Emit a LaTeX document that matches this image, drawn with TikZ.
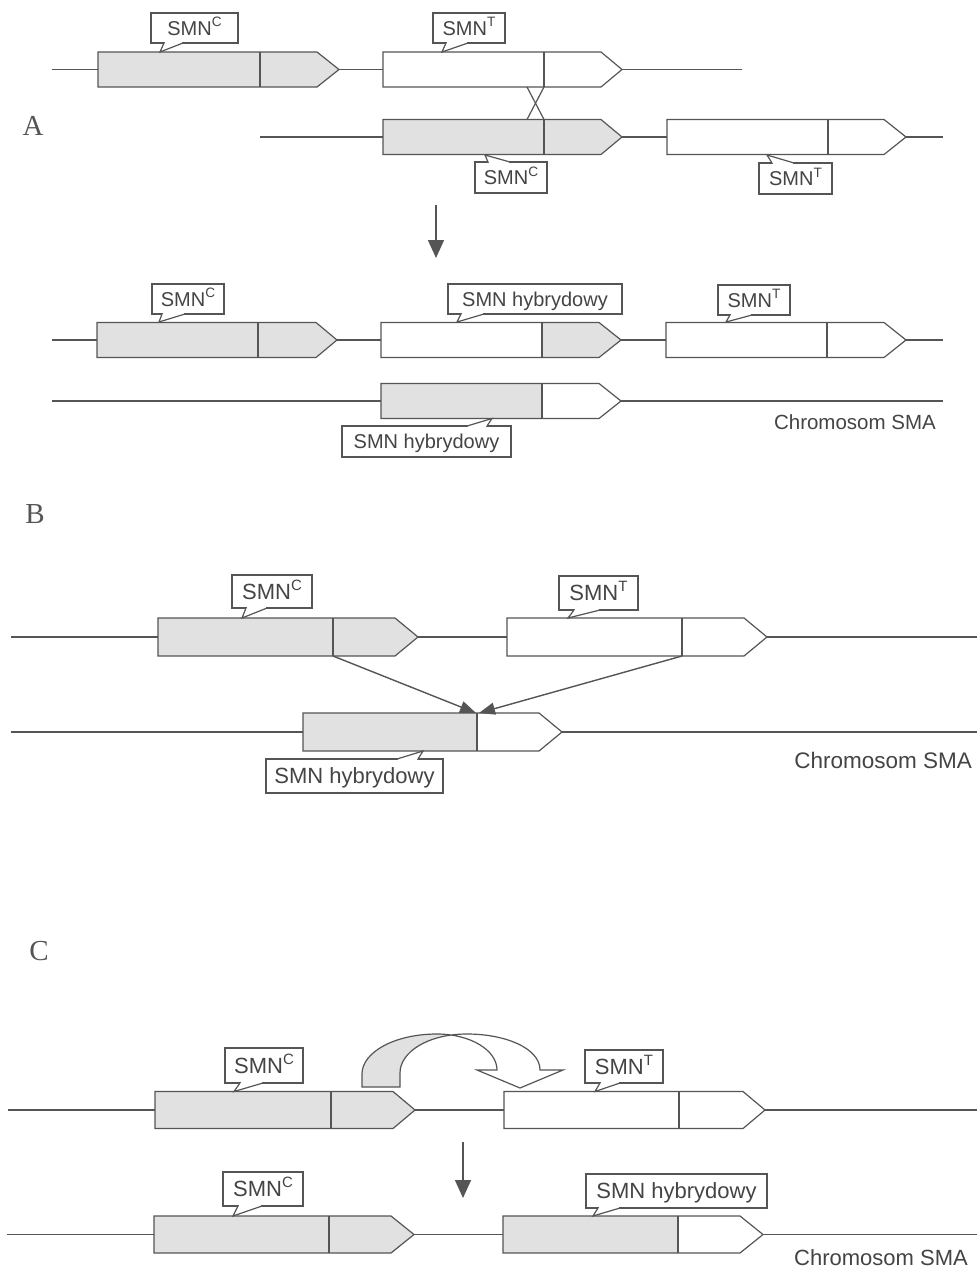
\documentclass[tikz,border=0pt]{standalone}
\usepackage{fontspec}
\usepackage{graphicx}
\setmainfont{Liberation Sans}
\newfontfamily\tnr{Liberation Serif}
\usetikzlibrary{arrows.meta,calc}
\definecolor{ln}{HTML}{555555}
\definecolor{shd}{HTML}{E1E1E1}
\definecolor{txt}{HTML}{444444}
\newcommand\supx[1]{\raisebox{.42em}{\scalebox{.68}{#1}}}
% gene: name, x0, xdiv, xhead, xtip, yc, halfheight, fill left, fill right
\newcommand\gene[9]{%
  \fill[#8] (#2,#6-#7) rectangle (#3,#6+#7);
  \fill[#9] (#3,#6-#7) -- (#4,#6-#7) -- (#5,#6) -- (#4,#6+#7) -- (#3,#6+#7) -- cycle;
  \draw[gl] (#2,#6-#7) -- (#4,#6-#7) -- (#5,#6) -- (#4,#6+#7) -- (#2,#6+#7) -- cycle;
  \draw[gl] (#3,#6-#7) -- (#3,#6+#7);
  \coordinate (#1-l) at (#2,#6);
  \coordinate (#1-t) at (#5,#6);
  \coordinate (#1-dt) at (#3,#6-#7);
  \coordinate (#1-db) at (#3,#6+#7);
}
% callout box: style, name, x1, y1, x2, y2, text
\newcommand\callout[7]{%
  \node[#1, minimum width={(#5-#3)*1pt}, minimum height={(#6-#4)*1pt}] (#2) at ({(#3+#5)/2},{(#4+#6)/2}) {#7};
}
% pointer: base y, base x1, base x2, tip x, tip y
\newcommand\ptr[5]{%
  \fill[white] (#2,#1) -- (#4,#5) -- (#3,#1) -- cycle;
  \draw[white, line width=2.2pt] (#2+1,#1) -- (#3-1,#1);
  \draw[gl] (#2,#1) -- (#4,#5) -- (#3,#1);
}
\begin{document}
\begin{tikzpicture}[x=1pt,y=-1pt,
  gl/.style={draw=ln, line width=1.2pt, line join=miter},
  chr/.style={draw=ln, line width=1.1pt},
  lblA/.style={draw=ln, line width=1.1pt, fill=white, inner sep=0pt, text=txt,
    font=\fontsize{20}{24}\selectfont, text height=18.3pt, text depth=4pt},
  lblB/.style={draw=ln, line width=1.1pt, fill=white, inner sep=0pt, text=txt,
    font=\fontsize{22}{26}\selectfont, text height=19.8pt, text depth=4pt},
  sect/.style={text=ln, inner sep=0pt, font=\tnr\fontsize{29}{30}\selectfont},
  chrlbl/.style={text=txt, anchor=base east, inner sep=0pt},
  darr/.style={draw=ln, line width=1.5pt, -{Triangle[length=18pt,width=16pt]}},
  barr/.style={draw=ln, line width=1.4pt, -{Triangle[length=16pt,width=12pt]}}]
\fill[white] (0,0) rectangle (977,1269);
\useasboundingbox (0,0) rectangle (977,1269);

% ================= A =================
\node[sect] (secA) at (33,126) {A};
% row 1
\coordinate (a1s) at (52,69.5);
\coordinate (a1e) at (742,69.5);
\gene{a1g1}{98}{260}{317}{339}{69.5}{17.5}{shd}{shd}
\gene{a1g2}{383}{544}{601}{622}{69.5}{17.5}{white}{white}
\draw[chr] (a1s) -- (a1g1-l);
\draw[chr] (a1g1-t) -- (a1g2-l);
\draw[chr] (a1g2-t) -- (a1e);
\callout{lblA}{la1}{151}{13}{238}{43}{SMN\supx{C}}
\ptr{43}{164}{183}{160}{52}
\callout{lblA}{la2}{433}{13}{505}{43}{SMN\supx{T}}
\ptr{43}{446}{468}{442}{52}
% row 2
\coordinate (a2s) at (260,137);
\coordinate (a2e) at (943,137);
\gene{a2g1}{383}{544}{601}{622}{137}{17.5}{shd}{shd}
\gene{a2g2}{667}{828}{884}{906}{137}{17.5}{white}{white}
\draw[chr] (a2s) -- (a2g1-l);
\draw[chr] (a2g1-t) -- (a2g2-l);
\draw[chr] (a2g2-t) -- (a2e);
\callout{lblA}{la3}{475}{162}{547}{193}{SMN\supx{C}}
\ptr{162}{488}{510}{485}{155}
\callout{lblA}{la4}{759}{163}{832}{194}{SMN\supx{T}}
\ptr{163}{772}{794}{767}{155}
% crossing over
\draw[gl] (a1g2-db) -- ($(a2g1-dt)+(-17,0)$);
\draw[gl] ($(a1g2-db)+(-17,0)$) -- (a2g1-dt);
% arrow
\coordinate (aarr1) at (436,205);
\coordinate (aarr2) at (436,258);
\draw[darr] (aarr1) -- (aarr2);
% row 3
\coordinate (a3s) at (52,340);
\coordinate (a3e) at (943,340);
\gene{a3g1}{97}{258}{316}{337}{340}{17.5}{shd}{shd}
\gene{a3g2}{381}{542}{599}{621}{340}{17.5}{white}{shd}
\gene{a3g3}{666}{827}{884}{906}{340}{17.5}{white}{white}
\draw[chr] (a3s) -- (a3g1-l);
\draw[chr] (a3g1-t) -- (a3g2-l);
\draw[chr] (a3g2-t) -- (a3g3-l);
\draw[chr] (a3g3-t) -- (a3e);
\callout{lblA}{la5}{152}{284}{224}{314}{SMN\supx{C}}
\ptr{314}{162}{185}{159}{322}
\callout{lblA}{la6}{448}{284}{622}{314}{SMN hybrydowy}
\ptr{314}{461}{484}{457}{322}
\callout{lblA}{la7}{718}{285}{790}{315}{SMN\supx{T}}
\ptr{315}{730}{752}{726}{322}
% row 4
\coordinate (a4s) at (52,401);
\coordinate (a4e) at (943,401);
\gene{a4g1}{381}{542}{599}{621}{401}{17.5}{shd}{white}
\draw[chr] (a4s) -- (a4g1-l);
\draw[chr] (a4g1-t) -- (a4e);
\callout{lblA}{la8}{342}{426}{511}{457}{SMN hybrydowy}
\ptr{426}{467}{487}{492}{418.5}
\node[chrlbl, font=\fontsize{20.5}{24}\selectfont] (chrA) at (936,429) {Chromosom SMA};

% ================= B =================
\node[sect] (secB) at (35,514) {B};
\coordinate (b1s) at (11,637);
\coordinate (b1e) at (977,637);
\gene{b1g1}{158}{333}{395}{418}{637}{19}{shd}{shd}
\gene{b1g2}{507}{682}{744}{767}{637}{19}{white}{white}
\draw[chr] (b1s) -- (b1g1-l);
\draw[chr] (b1g1-t) -- (b1g2-l);
\draw[chr] (b1g2-t) -- (b1e);
\callout{lblB}{lb1}{232}{575}{312}{608}{SMN\supx{C}}
\ptr{608}{246}{267}{242}{618}
\callout{lblB}{lb2}{559}{576}{638}{610}{SMN\supx{T}}
\ptr{610}{574}{600}{568}{618}
\coordinate (b2s) at (11,732);
\coordinate (b2e) at (977,732);
\gene{b2g1}{303}{477}{539}{562}{732}{19}{shd}{white}
\draw[chr] (b2s) -- (b2g1-l);
\draw[chr] (b2g1-t) -- (b2e);
\callout{lblB}{lb3}{266}{759}{443}{793}{SMN hybrydowy}
\ptr{759}{397}{418}{423}{751}
\draw[barr] (b1g1-db) -- ($(b2g1-dt)+(-1,0)$);
\draw[barr] (b1g2-db) -- ($(b2g1-dt)+(2,0)$);
\node[chrlbl, font=\fontsize{22.5}{26}\selectfont] (chrB) at (972,768) {Chromosom SMA};

% ================= C =================
\node[sect] (secC) at (39,951) {C};
\coordinate (c1s) at (8,1110);
\coordinate (c1e) at (977,1110);
\gene{c1g1}{155}{331}{393}{415}{1110}{18.5}{shd}{shd}
\gene{c1g2}{504}{679}{743}{765}{1110}{18.5}{white}{white}
\draw[chr] (c1s) -- (c1g1-l);
\draw[chr] (c1g1-t) -- (c1g2-l);
\draw[chr] (c1g2-t) -- (c1e);
\callout{lblB}{lc1}{225}{1048}{303}{1083}{SMN\supx{C}}
\ptr{1083}{240}{263}{234}{1091.5}
\callout{lblB}{lc2}{585}{1050}{663}{1083}{SMN\supx{T}}
\ptr{1083}{600}{620}{595}{1091.5}
% curved block arrow
\begin{scope}
\clip (300,1000) rectangle (450,1095);
\fill[shd] (362,1087) -- (362,1074) .. controls (362,1052) and (395,1034) .. (437,1034)
  .. controls (470,1034) and (497,1050) .. (497,1070) -- (540,1070)
  .. controls (540,1048) and (505,1034) .. (467,1034)
  .. controls (428,1034) and (400,1052) .. (400,1073) -- (400,1087) -- cycle;
\end{scope}
\draw[gl] (400,1087) -- (362,1087) -- (362,1074) .. controls (362,1052) and (395,1034) .. (437,1034)
  .. controls (470,1034) and (497,1050) .. (497,1070) -- (477,1070) -- (520,1088) -- (563,1070) -- (540,1070)
  .. controls (540,1048) and (505,1034) .. (467,1034)
  .. controls (428,1034) and (400,1052) .. (400,1073) -- cycle;
% arrow
\coordinate (carr1) at (463,1142);
\coordinate (carr2) at (463,1198);
\draw[darr] (carr1) -- (carr2);
% row 2
\coordinate (c2s) at (7,1234.5);
\coordinate (c2e) at (977,1234.5);
\gene{c2g1}{154}{329}{391}{414}{1234.5}{18.5}{shd}{shd}
\gene{c2g2}{503}{678}{740}{763}{1234.5}{18.5}{shd}{white}
\draw[chr] (c2s) -- (c2g1-l);
\draw[chr] (c2g1-t) -- (c2g2-l);
\draw[chr] (c2g2-t) -- (c2e);
\callout{lblB}{lc3}{223}{1172}{303}{1206}{SMN\supx{C}}
\ptr{1206}{238}{262}{233}{1216}
\callout{lblB}{lc4}{586}{1174}{767}{1208}{SMN hybrydowy}
\ptr{1208}{598}{620}{593}{1216}
\node[chrlbl, font=\fontsize{22}{26}\selectfont] (chrC) at (968,1265) {Chromosom SMA};
\end{tikzpicture}
\end{document}
